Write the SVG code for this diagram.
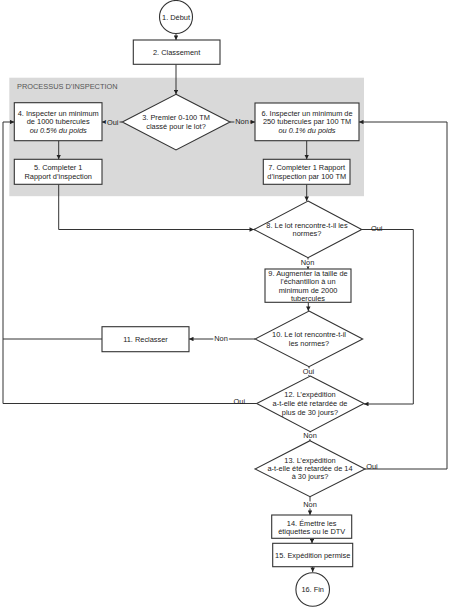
<svg xmlns="http://www.w3.org/2000/svg" width="450" height="607" viewBox="0 0 450 607">
<style>
  text { font-family: "Liberation Sans", Arial, sans-serif; font-size: 7.4px; fill: #222; text-anchor: middle; }
  .title { fill: #555; text-anchor: start; }
  .it { font-style: italic; }
  .shape { fill: #fff; stroke: #333; stroke-width: 1.1; }
  .conn path { fill: none; stroke: #333; stroke-width: 1; }
  .arr { marker-end: url(#ah); }
  .halo-w { stroke: #fff; stroke-width: 3; paint-order: stroke; stroke-linejoin: round; }
  .halo-g { stroke: #d9d9d9; stroke-width: 3; paint-order: stroke; stroke-linejoin: round; }
</style>
<defs>
  <marker id="ah" viewBox="0 0 6 6" refX="6" refY="3" markerWidth="5" markerHeight="4.5" markerUnits="userSpaceOnUse" orient="auto">
    <path d="M0,0 L6,3 L0,6 Z" fill="#222"/>
  </marker>
</defs>
<rect width="450" height="607" fill="#fff"/>

<g id="group-inspection">
  <rect x="9.3" y="77.7" width="354.7" height="118.5" fill="#d9d9d9"/>
  <text class="title" x="17" y="88.7">PROCESSUS D’INSPECTION</text>
</g>

<g class="conn" id="connectors">
  <path class="arr" d="M176,34 V40"/>
  <path class="arr" d="M176,64.3 V94.3"/>
  <path class="arr" d="M122.3,122 H102"/>
  <path class="arr" d="M230,122 H255"/>
  <path class="arr" d="M58.7,140.7 V159.3"/>
  <path class="arr" d="M306.7,140.7 V159.3"/>
  <path class="arr" d="M58.7,184.3 V229.5 H254"/>
  <path class="arr" d="M306.7,184.3 V201"/>
  <path class="arr" d="M361.7,229.5 H413.3 V404 H364"/>
  <path class="arr" d="M308,257.7 V269"/>
  <path class="arr" d="M308.3,302.3 V311"/>
  <path class="arr" d="M255,339 H189"/>
  <path d="M102,339 H3"/>
  <path class="arr" d="M256.7,403.5 H3 V122 H14.3"/>
  <path class="arr" d="M309,366.7 V376"/>
  <path class="arr" d="M310,431.7 V440.7"/>
  <path class="arr" d="M365,469 H447 V122 H359"/>
  <path class="arr" d="M310,496.7 V515"/>
  <path class="arr" d="M312,538.3 V543.3"/>
  <path class="arr" d="M312.7,566.7 V572"/>
  <text class="halo-g" x="112.7" y="124.7">Oui</text>
  <text class="halo-g" x="242" y="124.4">Non</text>
  <text x="376.7" y="231">Oui</text>
  <text class="halo-w" x="307.5" y="265.3">Non</text>
  <text class="halo-w" x="221" y="341">Non</text>
  <text class="halo-w" x="308.5" y="373.7">Oui</text>
  <text x="239.3" y="403.5">Oui</text>
  <text class="halo-w" x="310" y="437.7">Non</text>
  <text x="372" y="469.4">Oui</text>
  <text class="halo-w" x="310" y="506.7">Non</text>
</g>

<g id="n1">
  <circle class="shape" cx="176" cy="17" r="16.5"/>
  <text x="176" y="19.6">1. Début</text>
</g>
<g id="n2">
  <rect class="shape" x="133.3" y="40" width="86.7" height="24.3"/>
  <text x="176.6" y="54.7">2. Classement</text>
</g>
<g id="n3">
  <polygon class="shape" points="176,94.3 230,122 176,150 122.3,122"/>
  <text x="176" y="120">3. Premier 0-100 TM</text>
  <text x="176" y="128.7">classé pour le lot?</text>
</g>
<g id="n4">
  <rect class="shape" x="14.3" y="102.7" width="87.7" height="38"/>
  <text x="58.2" y="116">4. Inspecter un minimum</text>
  <text x="58.2" y="124.4">de 1000 tubercules</text>
  <text class="it" x="58.2" y="132.7">ou 0.5% du poids</text>
</g>
<g id="n5">
  <rect class="shape" x="14.3" y="159.3" width="87.7" height="25"/>
  <text x="58.2" y="169.5">5. Completer 1</text>
  <text x="58.2" y="178.5">Rapport d’inspection</text>
</g>
<g id="n6">
  <rect class="shape" x="255" y="103" width="104" height="37.7"/>
  <text x="307" y="116">6. Inspecter un minimum de</text>
  <text x="307" y="124.4">250 tubercules par 100 TM</text>
  <text class="it" x="307" y="132.7">ou 0.1% du poids</text>
</g>
<g id="n7">
  <rect class="shape" x="263.3" y="159.3" width="86.7" height="25"/>
  <text x="306.7" y="169.8">7. Compléter 1 Rapport</text>
  <text x="306.7" y="178.8">d’inspection par 100 TM</text>
</g>
<g id="n8">
  <polygon class="shape" points="308,201 361.7,229.5 308,257.7 254,229.5"/>
  <text x="307" y="227.7">8. Le lot rencontre-t-il les</text>
  <text x="307" y="236">normes?</text>
</g>
<g id="n9">
  <rect class="shape" x="265" y="269" width="86" height="33.3"/>
  <text x="308" y="276">9. Augmenter la taille de</text>
  <text x="308" y="284.2">l’échantillon à un</text>
  <text x="308" y="292.5">minimum de 2000</text>
  <text x="308" y="300.7">tubercules</text>
</g>
<g id="n10">
  <polygon class="shape" points="309,311 362.7,339 309,366.7 255,339"/>
  <text x="309" y="336.7">10. Le lot rencontre-t-il</text>
  <text x="309" y="346.2">les normes?</text>
</g>
<g id="n11">
  <rect class="shape" x="102" y="326.7" width="87" height="25"/>
  <text x="145.5" y="341.7">11. Reclasser</text>
</g>
<g id="n12">
  <polygon class="shape" points="310.3,376 364,403.5 310.3,431.7 256.7,403.5"/>
  <text x="310" y="397">12. L’expédition</text>
  <text x="310" y="406">a-t-elle été retardée de</text>
  <text x="310" y="415">plus de 30 jours?</text>
</g>
<g id="n13">
  <polygon class="shape" points="310,440.7 365,469 310,496.7 255,469"/>
  <text x="310" y="462.7">13. L’expédition</text>
  <text x="310" y="471">a-t-elle été retardée de 14</text>
  <text x="310" y="479.4">à 30 jours?</text>
</g>
<g id="n14">
  <rect class="shape" x="271.7" y="515" width="80" height="23.3"/>
  <text x="311.7" y="526">14. Émettre les</text>
  <text x="311.7" y="534.4">étiquettes ou le DTV</text>
</g>
<g id="n15">
  <rect class="shape" x="272.7" y="543.3" width="80" height="23.4"/>
  <text x="312.7" y="557.7">15. Expédition permise</text>
</g>
<g id="n16">
  <circle class="shape" cx="312.7" cy="589.5" r="16.8"/>
  <text x="312.7" y="592">16. Fin</text>
</g>
</svg>
